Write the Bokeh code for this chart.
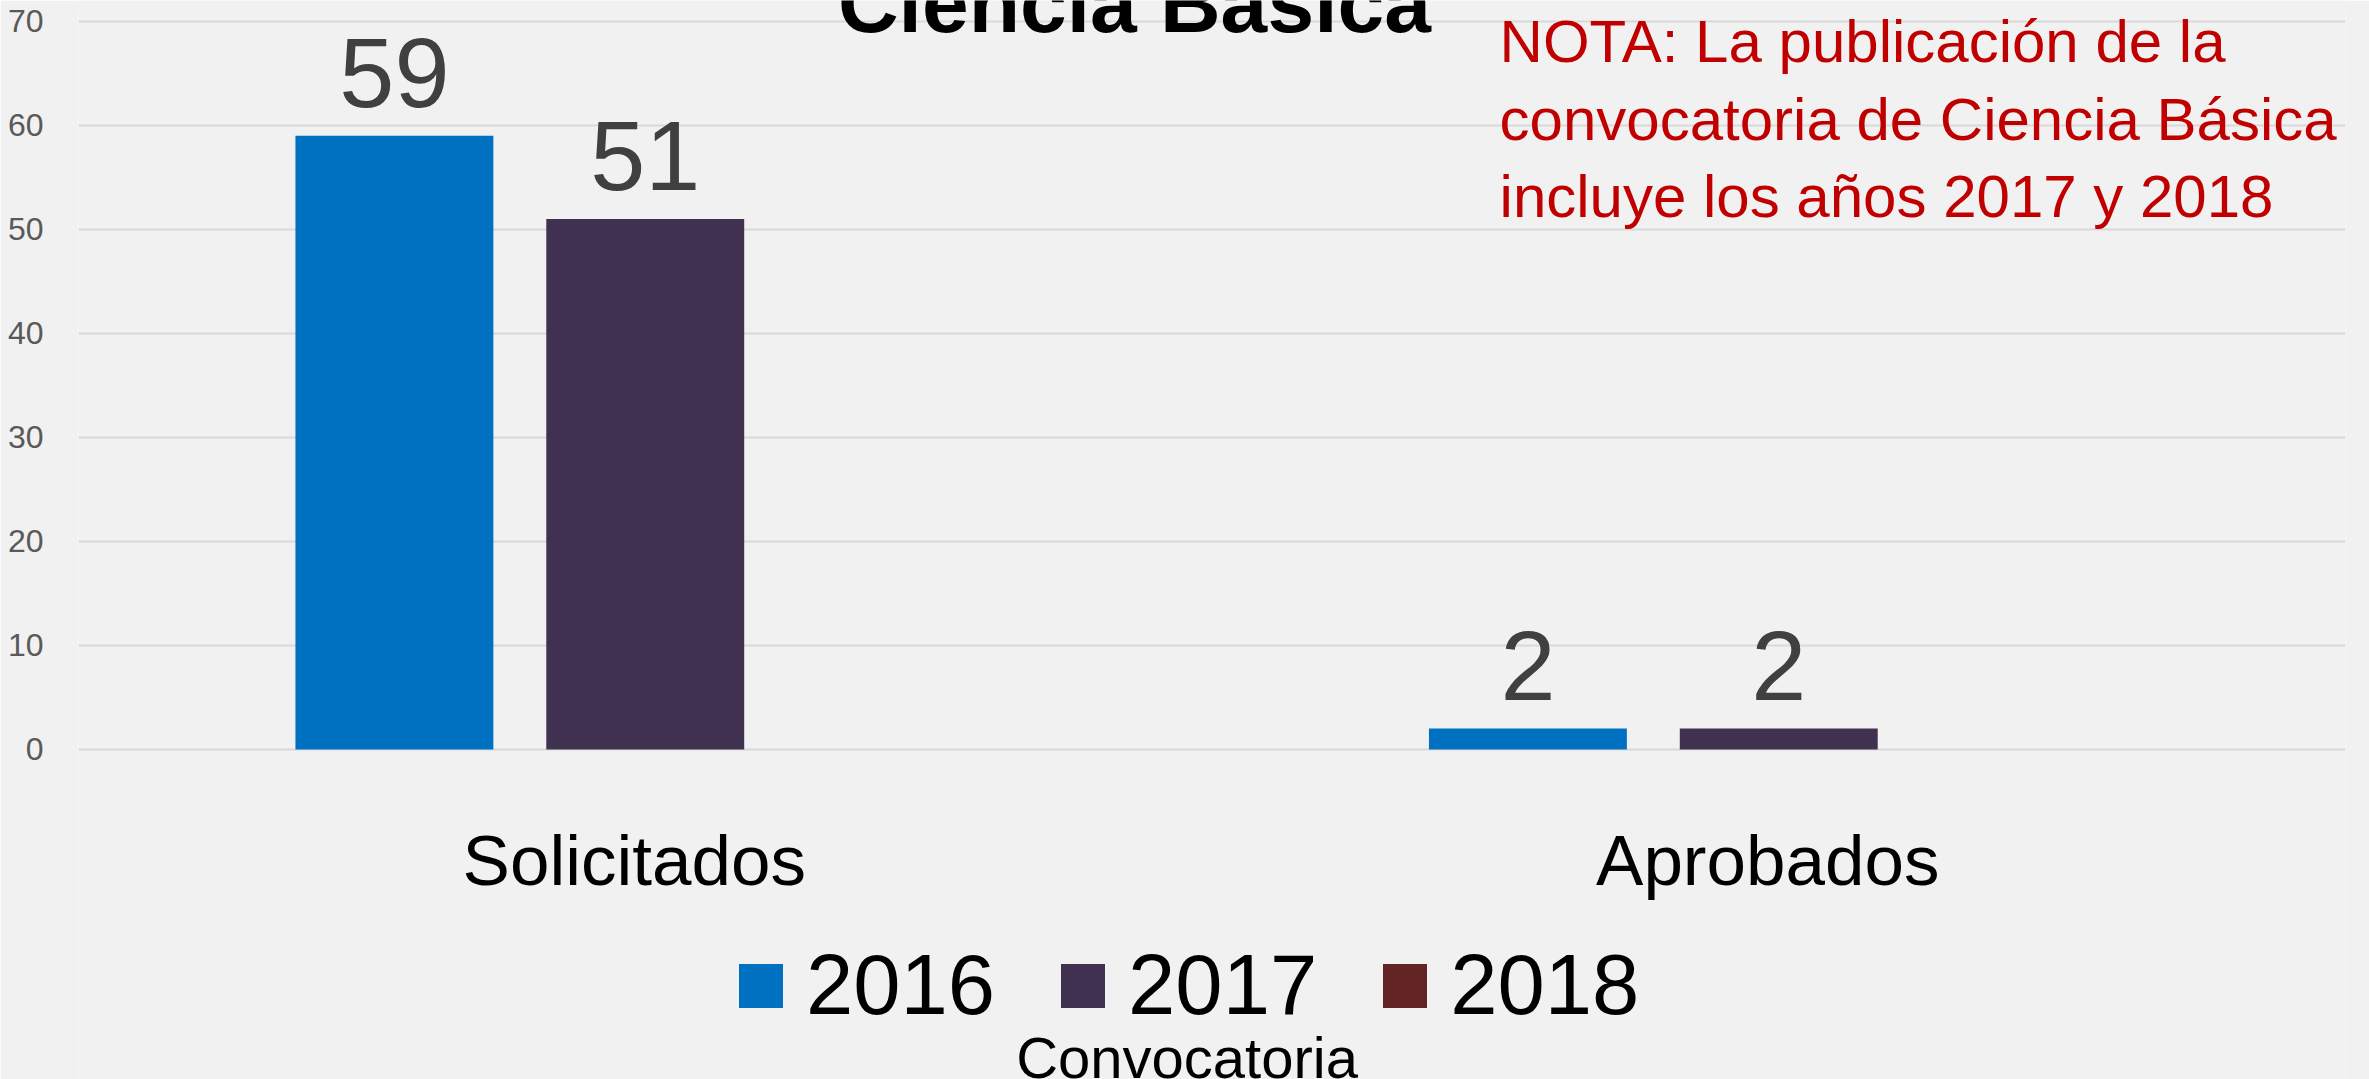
import math
from bokeh.plotting import figure
from bokeh.models import (ColumnDataSource, FactorRange, Range1d, FixedTicker, Legend,
                          LabelSet)
from bokeh.core.properties import value
from bokeh.transform import dodge
from bokeh.embed import file_html
from bokeh.resources import INLINE

# ---- data ----
categories = ["Solicitados", "Aprobados"]
years = ["2016", "2017", "2018"]
v2016 = [59, 2]
v2017 = [51, 2]
v2018 = [math.nan, math.nan]   # sin datos para 2018
colors = ["#0070C0", "#403151", "#632523"]
y_ticks = [0, 10, 20, 30, 40, 50, 60, 70]
chart_title = "Ciencia Básica"
x_title = "Convocatoria"
note_lines = ["NOTA: La publicación de la",
              "convocatoria de Ciencia Básica",
              "incluye los años 2017 y 2018"]

series = [v2016, v2017, v2018]
offsets = [-0.2213, 0.0, 0.2213]
bar_w = 0.1746

FONT = "Liberation Sans"
BG = "#f1f1f1"

p = figure(width=2369, height=1079, output_backend="svg", toolbar_location=None,
           x_range=FactorRange(*categories, range_padding=0),
           y_range=Range1d(-31.74, 72.01), x_axis_location=None)
p.min_border_left = 78
p.min_border_right = 24
p.min_border_top = 0
p.min_border_bottom = 0
p.background_fill_color = BG
p.border_fill_color = BG
p.outline_line_color = None

for g in p.xgrid:
    g.visible = False
p.ygrid.grid_line_color = "#d9d9d9"
p.ygrid.grid_line_width = 2

p.yaxis.ticker = FixedTicker(ticks=y_ticks)
p.yaxis.axis_line_color = None
p.yaxis.major_tick_line_color = None
p.yaxis.minor_tick_line_color = None
p.yaxis.major_label_text_font = FONT
p.yaxis.major_label_text_font_size = "32px"
p.yaxis.major_label_text_color = "#595959"
p.yaxis.major_label_standoff = 29

items = []
for yr, vals, off, col in zip(years, series, offsets, colors):
    src = ColumnDataSource(dict(cat=categories, val=vals))
    r = p.vbar(x=dodge("cat", off, range=p.x_range), top="val", bottom=0, width=bar_w,
               source=src, fill_color=col, line_color=None)
    items.append((yr, [r]))
    lab_cats = [c for c, v in zip(categories, vals) if not math.isnan(v)]
    lab_vals = [v for v in vals if not math.isnan(v)]
    if lab_vals:
        lsrc = ColumnDataSource(dict(cat=lab_cats, val=lab_vals,
                                     lbl=[str(v) for v in lab_vals]))
        p.add_layout(LabelSet(x=dodge("cat", off, range=p.x_range), y="val", text="lbl",
                              source=lsrc, y_offset=29, text_align="center",
                              text_baseline="alphabetic", text_font=value(FONT),
                              text_font_size="99px", text_color="#404040"))

# category labels (x axis)
csrc = ColumnDataSource(dict(cat=categories, base=[0] * len(categories)))
p.add_layout(LabelSet(x="cat", y="base", text="cat", source=csrc, y_offset=-136,
                      x_offset=-11, text_align="center", text_baseline="alphabetic",
                      text_font=value(FONT), text_font_size="71px", text_color="black"))

legend = Legend(items=items, orientation="horizontal", location=(655, 45),
                glyph_width=55, glyph_height=55, label_standoff=18, spacing=60,
                padding=0, margin=0, border_line_color=None, background_fill_alpha=0,
                label_text_font=FONT, label_text_font_size="85px",
                label_text_color="black")
p.add_layout(legend, "center")

# title (cut at the top edge, as in the original)
tsrc = ColumnDataSource(dict(x=[0.9316], y=[69.03], t=[chart_title]))
p.add_layout(LabelSet(x="x", y="y", text="t", source=tsrc, text_align="center",
                      text_baseline="alphabetic", text_font=value(FONT),
                      text_font_size="84px", text_font_style="bold", text_color="black"))

# note
nsrc = ColumnDataSource(dict(x=[1.2537] * 3, y=[66.05, 58.64, 51.24], t=note_lines))
p.add_layout(LabelSet(x="x", y="y", text="t", source=nsrc, text_align="left",
                      text_baseline="alphabetic", text_font=value(FONT),
                      text_font_size="60px", text_color="#C00000"))

# x axis title
xsrc = ColumnDataSource(dict(x=[0.978], y=[-31.55], t=[x_title]))
p.add_layout(LabelSet(x="x", y="y", text="t", source=xsrc, text_align="center",
                      text_baseline="alphabetic", text_font=value(FONT),
                      text_font_size="58px", text_color="black"))

open("out.html", "w").write(file_html(p, INLINE))
